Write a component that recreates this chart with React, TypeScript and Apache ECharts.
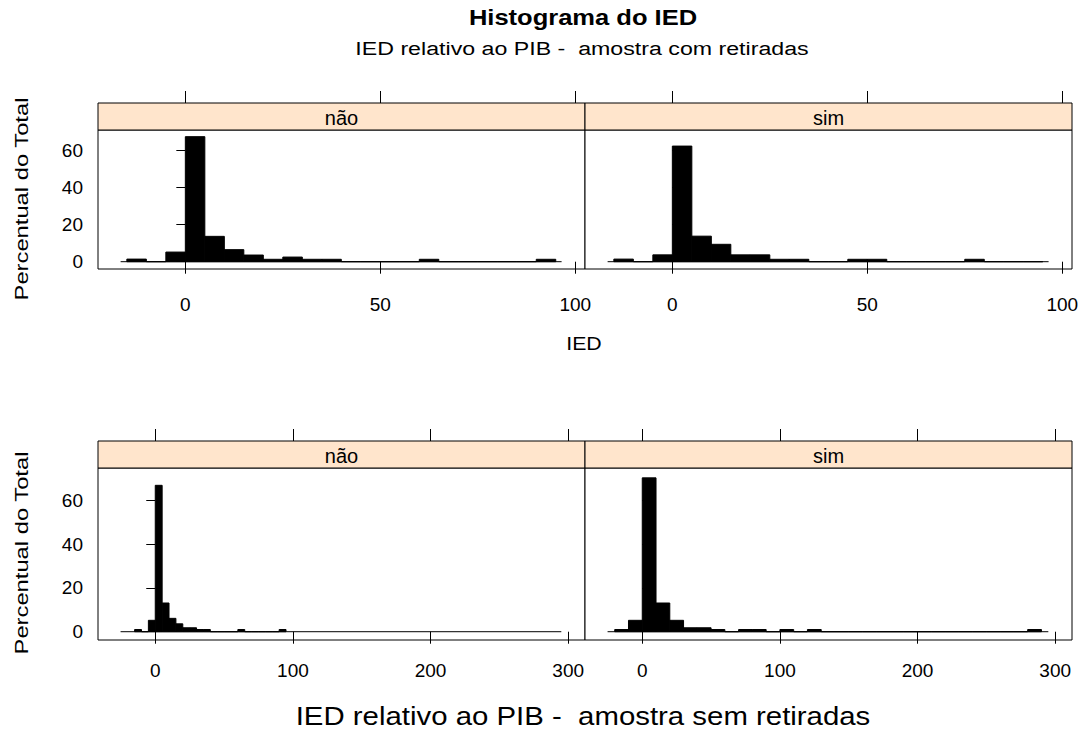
import React, { useEffect, useRef } from "react";
import * as echarts from "echarts";

const FONT = "'Liberation Sans', Arial, Helvetica, sans-serif";

const stripLabels = ["não", "sim"];

// IED relativo ao PIB - amostra com retiradas (percent of total per bin)
const comBinStart = -15;
const comBinWidth = 5;
const comNao = [1.4, 0, 5.2, 67.6, 13.7, 6.5, 3.6, 1.3, 2.5, 1.3, 1.3, 0, 0, 0, 0, 1.3, 0, 0, 0, 0, 0, 1.3];
const comSim = [1.4, 0, 3.7, 62.5, 13.8, 9.4, 3.7, 3.7, 1.3, 1.3, 0, 0, 1.3, 1.3, 0, 0, 0, 0, 1.3, 0, 0, 0];
const comRange = [-16.6, 96.5];
const comXTicks = [0, 50, 100];
const comXLim = [-22.4, 102.5];
const comYTicks = [0, 20, 40, 60];
const comYLim = [-3.95, 71.2];

// IED relativo ao PIB - amostra sem retiradas
const semNaoBinStart = -15;
const semNaoBinWidth = 5;
const semNao = [1.0, 0, 5.2, 66.8, 13.1, 6.1, 3.6, 1.8, 1.8, 1.0, 1.0, 0, 0, 0, 0, 1.0, 0, 0, 0, 0, 0, 1.0];
const semSimBinStart = -20;
const semSimBinWidth = 10;
const semSim = [1.0, 5.2, 70.2, 13.1, 5.2, 1.8, 1.8, 1.0, 0, 1.0, 1.0, 0, 1.0, 0, 1.0, 0, 0, 0, 0, 0, 0, 0, 0, 0, 0, 0, 0, 0, 0, 0, 1.0];
const semRange = [-25.2, 295];
const semXTicks = [0, 100, 200, 300];
const semXLim = [-41.6, 312.2];
const semYTicks = [0, 20, 40, 60];
const semYLim = [-3.78, 74.7];

const toBins = (start: number, width: number, values: number[]) =>
  values.map((v, i) => [start + i * width, start + (i + 1) * width, v]);

const STRIP_H = 27;

export default function App() {
  const ref = useRef<HTMLDivElement>(null);

  useEffect(() => {
    if (!ref.current) return;
    const chart = echarts.init(ref.current, undefined, { renderer: "svg" });

    const panels = [
      { grid: { left: 98, top: 130, width: 487, height: 139 }, bins: toBins(comBinStart, comBinWidth, comNao), range: comRange, xLim: comXLim, xTicks: comXTicks, yLim: comYLim, yTicks: comYTicks, label: stripLabels[0], side: "left", labelMargin: 26 },
      { grid: { left: 585, top: 130, width: 487, height: 139 }, bins: toBins(comBinStart, comBinWidth, comSim), range: comRange, xLim: comXLim, xTicks: comXTicks, yLim: comYLim, yTicks: comYTicks, label: stripLabels[1], side: "right", labelMargin: 26 },
      { grid: { left: 98, top: 468, width: 487, height: 172 }, bins: toBins(semNaoBinStart, semNaoBinWidth, semNao), range: semRange, xLim: semXLim, xTicks: semXTicks, yLim: semYLim, yTicks: semYTicks, label: stripLabels[0], side: "left", labelMargin: 21 },
      { grid: { left: 585, top: 468, width: 487, height: 172 }, bins: toBins(semSimBinStart, semSimBinWidth, semSim), range: semRange, xLim: semXLim, xTicks: semXTicks, yLim: semYLim, yTicks: semYTicks, label: stripLabels[1], side: "right", labelMargin: 21 },
    ];

    const tickStyle = { color: "#000", width: 1 };
    const labelStyle = { color: "#000", fontFamily: FONT, fontSize: 19 };

    const grid: any[] = [];
    const xAxis: any[] = [];
    const yAxis: any[] = [];
    const series: any[] = [];
    const graphic: any[] = [];

    panels.forEach((p, i) => {
      grid.push({ ...p.grid, show: true, borderColor: "#000", borderWidth: 1, backgroundColor: "#fff" });
      xAxis.push({
        gridIndex: i, type: "value", position: "bottom", min: p.xLim[0], max: p.xLim[1],
        axisLine: { show: false }, splitLine: { show: false },
        axisTick: { show: true, customValues: p.xTicks, length: 12, lineStyle: tickStyle },
        axisLabel: { show: true, customValues: p.xTicks, margin: p.labelMargin, ...labelStyle },
      });
      xAxis.push({
        gridIndex: i, type: "value", position: "top", offset: STRIP_H, min: p.xLim[0], max: p.xLim[1],
        axisLine: { show: false }, splitLine: { show: false },
        axisTick: { show: true, customValues: p.xTicks, length: 12, lineStyle: tickStyle },
        axisLabel: { show: false },
      });
      yAxis.push({
        gridIndex: i, type: "value", position: p.side, min: p.yLim[0], max: p.yLim[1],
        axisLine: { show: false }, splitLine: { show: false },
        axisTick: { show: true, customValues: p.yTicks, length: 9, lineStyle: tickStyle },
        axisLabel: { show: p.side === "left", customValues: p.yTicks, margin: 15, ...labelStyle },
      });
      series.push({
        type: "custom", xAxisIndex: 2 * i, yAxisIndex: i, data: p.bins, silent: true,
        renderItem: (_params: any, api: any) => {
          const a = api.coord([api.value(0), 0]);
          const b = api.coord([api.value(1), api.value(2)]);
          return {
            type: "rect",
            shape: { x: a[0], y: b[1], width: b[0] - a[0], height: a[1] - b[1] },
            style: { fill: "#000", stroke: "#000", lineWidth: 1 },
          };
        },
      });
      series.push({
        type: "line", xAxisIndex: 2 * i, yAxisIndex: i, silent: true, symbol: "none",
        data: [[p.range[0], 0], [p.range[1], 0]],
        lineStyle: { color: "#000", width: 1 },
      });
      graphic.push({
        type: "rect", z: 10,
        shape: { x: p.grid.left, y: p.grid.top - STRIP_H, width: p.grid.width, height: STRIP_H },
        style: { fill: "#FFE5CC", stroke: "#000", lineWidth: 1 },
      });
      graphic.push({
        type: "text", z: 11,
        x: p.grid.left + p.grid.width / 2, y: p.grid.top - STRIP_H / 2 + 1,
        style: { text: p.label, fill: "#000", font: `20px ${FONT}`, textAlign: "center", textVerticalAlign: "middle" },
      });
    });

    // free-standing titles; scaleX widens the lettering along the text direction
    const text = (t: string, x: number, y: number, size: number, bold: boolean, scaleX: number, rotation = 0) => ({
      type: "text", x, y, scaleX, rotation,
      style: { text: t, fill: "#000", font: `${bold ? "bold " : ""}${size}px ${FONT}`, textAlign: "center", textVerticalAlign: "middle" },
    });

    graphic.push(text("Histograma do IED", 583, 17, 22, true, 1.16));
    graphic.push(text("IED relativo ao PIB -  amostra com retiradas", 582, 48, 19, false, 1.22));
    graphic.push(text("IED", 584, 343, 19, false, 1.12));
    graphic.push(text("IED relativo ao PIB -  amostra sem retiradas", 583, 716, 26, false, 1.13));
    graphic.push(text("Percentual do Total", 22, 199, 19, false, 1.25, Math.PI / 2));
    graphic.push(text("Percentual do Total", 22, 553, 19, false, 1.25, Math.PI / 2));

    chart.setOption({
      animation: false,
      backgroundColor: "#fff",
      grid, xAxis, yAxis, series, graphic,
    });

    return () => chart.dispose();
  }, []);

  return <div ref={ref} style={{ position: "absolute", left: 0, top: 0, width: 1082, height: 734 }} />;
}
